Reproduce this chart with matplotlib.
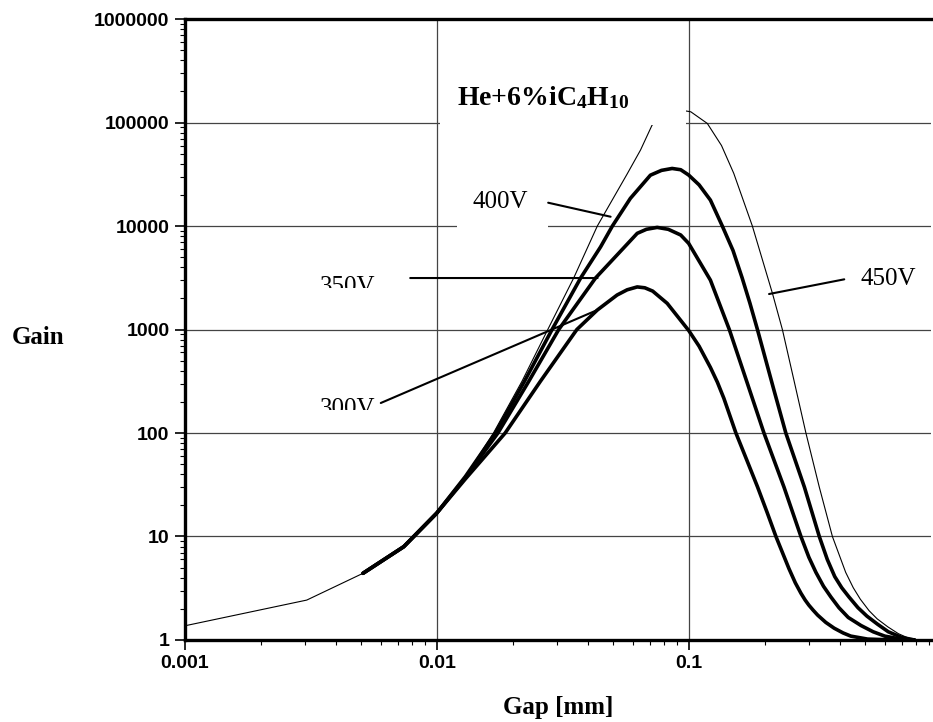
import numpy as np
import matplotlib.pyplot as plt
from matplotlib.patches import Rectangle
from matplotlib.ticker import FixedLocator, FixedFormatter, LogLocator, NullFormatter

plt.rcParams['mathtext.fontset'] = 'custom'
plt.rcParams['mathtext.rm'] = 'Liberation Serif:bold'
plt.rcParams['mathtext.it'] = 'Liberation Serif:bold'
plt.rcParams['mathtext.bf'] = 'Liberation Serif:bold'

# gap [mm] / gain
gap_300 = [0.0051, 0.0074, 0.01, 0.013, 0.0187, 0.0258, 0.036, 0.0434, 0.052, 0.057,
           0.0625, 0.067, 0.072, 0.0822, 0.1, 0.11, 0.122, 0.13, 0.138, 0.154,
           0.17, 0.1875, 0.205, 0.222, 0.25, 0.265, 0.279, 0.29, 0.30, 0.312,
           0.325, 0.35, 0.378, 0.41, 0.44, 0.513, 0.62, 0.787]
gain_300 = [4.41, 7.97, 16.8, 36, 100, 316, 1000, 1543, 2155, 2420,
            2580, 2530, 2350, 1790, 980, 690, 430, 310, 216, 100,
            55, 30.3, 17, 10, 4.9, 3.57, 2.83, 2.43, 2.17, 1.94,
            1.74, 1.48, 1.30, 1.17, 1.09, 1.02, 1.005, 1.0]

gap_350 = [0.0051, 0.0074, 0.01, 0.013, 0.0175, 0.0232, 0.0305, 0.0427, 0.055, 0.0625,
           0.068, 0.075, 0.083, 0.093, 0.1, 0.122, 0.145, 0.171, 0.199, 0.239,
           0.279, 0.30, 0.32, 0.343, 0.367, 0.395, 0.43, 0.483, 0.54, 0.6,
           0.68, 0.787]
gain_350 = [4.41, 7.97, 16.8, 37, 100, 316, 1000, 3145, 6085, 8500,
            9300, 9700, 9300, 8190, 6800, 3000, 1000, 302, 100, 30,
            10, 6.3, 4.5, 3.3, 2.6, 2.05, 1.65, 1.38, 1.2, 1.09,
            1.03, 1.0]

gap_400 = [0.0051, 0.0074, 0.01, 0.013, 0.0171, 0.0223, 0.0287, 0.0373, 0.0447, 0.0498,
           0.0587, 0.0705, 0.078, 0.086, 0.093, 0.1, 0.11, 0.122, 0.136, 0.15,
           0.163, 0.175, 0.1875, 0.218, 0.243, 0.288, 0.33, 0.355, 0.38, 0.405,
           0.433, 0.47, 0.51, 0.562, 0.62, 0.7, 0.787]
gain_400 = [4.41, 7.97, 16.8, 38, 100, 316, 1000, 3160, 6280, 10000,
            18500, 31000, 34500, 36000, 35000, 31100, 25000, 17800, 10000, 5800,
            3160, 1800, 1000, 260, 100, 30, 10, 6.0, 4.1, 3.2,
            2.6, 2.05, 1.7, 1.42, 1.2, 1.06, 1.0]

gap_450 = [0.001, 0.00305, 0.0051, 0.0074, 0.01, 0.013, 0.0168, 0.0218, 0.0276, 0.035,
           0.0434, 0.0569, 0.0644, 0.0716, 0.088, 0.102, 0.1186, 0.135, 0.151, 0.179,
           0.215, 0.2355, 0.262, 0.292, 0.33, 0.372, 0.42, 0.45, 0.48, 0.52,
           0.56, 0.617, 0.68, 0.74, 0.787]
gain_450 = [1.37, 2.43, 4.41, 7.97, 16.8, 38, 100, 316, 1000, 3160,
            10000, 31600, 54200, 94600, 135000, 127000, 98000, 60000, 32300, 10000,
            2240, 1000, 320, 100, 30, 10, 4.5, 3.2, 2.48, 1.92,
            1.6, 1.34, 1.15, 1.05, 1.0]

x_ticks = [0.001, 0.01, 0.1]
x_ticklabels = ['0.001', '0.01', '0.1']
y_ticks = [1, 10, 100, 1000, 10000, 100000, 1000000]
y_ticklabels = ['1', '10', '100', '1000', '10000', '100000', '1000000']

fig = plt.figure(figsize=(9.33, 7.22), dpi=100)
ax = fig.add_axes([0.198, 0.1136, 0.8, 0.86])

ax.set_xscale('log')
ax.set_yscale('log')
ax.set_xlim(0.001, 0.917)
ax.set_ylim(1, 1000000)

ax.grid(True, which='major', color='#444444', linewidth=0.9)

ax.plot(gap_450, gain_450, color='black', linewidth=0.8)
for g, v in [(gap_400, gain_400), (gap_350, gain_350), (gap_300, gain_300)]:
    ax.plot(g, v, color='black', linewidth=2.6, solid_capstyle='round',
            solid_joinstyle='round')

# white patches of the scan (behind title / labels)
ax.add_patch(Rectangle((0.0103, 94600), 0.098 - 0.0103, 400000 - 94600,
                       facecolor='white', edgecolor='none', zorder=3))
ax.add_patch(Rectangle((0.01206, 8750), 0.0277 - 0.01206, 27800 - 8750,
                       facecolor='white', edgecolor='none', zorder=3))

serif = 'Liberation Serif'
ax.text(0.01206, 147500, r'He+6%iC$_4$H$_{10}$', family=serif, fontsize=20,
        fontweight='bold', va='baseline', ha='left', zorder=4)

ax.text(0.01393, 14930, '400V', family=serif, fontsize=18, va='baseline', zorder=4)
ax.text(0.00344, 2253, '350V', family=serif, fontsize=18, va='baseline', zorder=4)
ax.text(0.00344, 149, '300V', family=serif, fontsize=18, va='baseline', zorder=4)
ax.text(0.483, 2692, '450V', family=serif, fontsize=18, va='baseline', zorder=4)
ax.add_patch(Rectangle((0.00329, 2107), 0.00596 - 0.00329, 2518 - 2107,
                       facecolor='white', edgecolor='none', zorder=5))
ax.add_patch(Rectangle((0.00329, 139.6), 0.00596 - 0.00329, 167 - 139.6,
                       facecolor='white', edgecolor='none', zorder=5))

line = dict(arrowstyle='-', color='black', linewidth=1.5, shrinkA=0, shrinkB=0)
ax.annotate('', xy=(0.049, 12300), xytext=(0.0277, 16800), arrowprops=line, zorder=4)
ax.annotate('', xy=(0.0435, 3145), xytext=(0.00785, 3145), arrowprops=line, zorder=4)
ax.annotate('', xy=(0.0434, 1543), xytext=(0.0060, 195), arrowprops=line, zorder=4)
ax.annotate('', xy=(0.2085, 2203), xytext=(0.4145, 3055), arrowprops=line, zorder=4)

for s in ['left', 'bottom', 'top']:
    ax.spines[s].set_linewidth(2.4)
ax.spines['right'].set_visible(False)

ax.xaxis.set_major_locator(FixedLocator(x_ticks))
ax.xaxis.set_major_formatter(FixedFormatter(x_ticklabels))
ax.yaxis.set_major_locator(FixedLocator(y_ticks))
ax.yaxis.set_major_formatter(FixedFormatter(y_ticklabels))
ax.xaxis.set_minor_locator(LogLocator(base=10, subs=np.arange(2, 10)))
ax.yaxis.set_minor_locator(LogLocator(base=10, subs=np.arange(2, 10)))
ax.xaxis.set_minor_formatter(NullFormatter())
ax.yaxis.set_minor_formatter(NullFormatter())
ax.tick_params(which='major', direction='out', length=7, width=1.2, pad=4)
ax.tick_params(which='minor', direction='out', length=3.5, width=0.8)
for lab in ax.get_xticklabels() + ax.get_yticklabels():
    lab.set_family('Liberation Sans')
    lab.set_fontweight('bold')
    lab.set_fontsize(14)

fig.text(0.013, 0.532, 'Gain', family=serif, fontsize=18, fontweight='bold',
         ha='left', va='center')
fig.text(0.598, 0.02, 'Gap [mm]', family=serif, fontsize=18, fontweight='bold',
         ha='center', va='center')

fig.savefig('out.png', dpi=100)
